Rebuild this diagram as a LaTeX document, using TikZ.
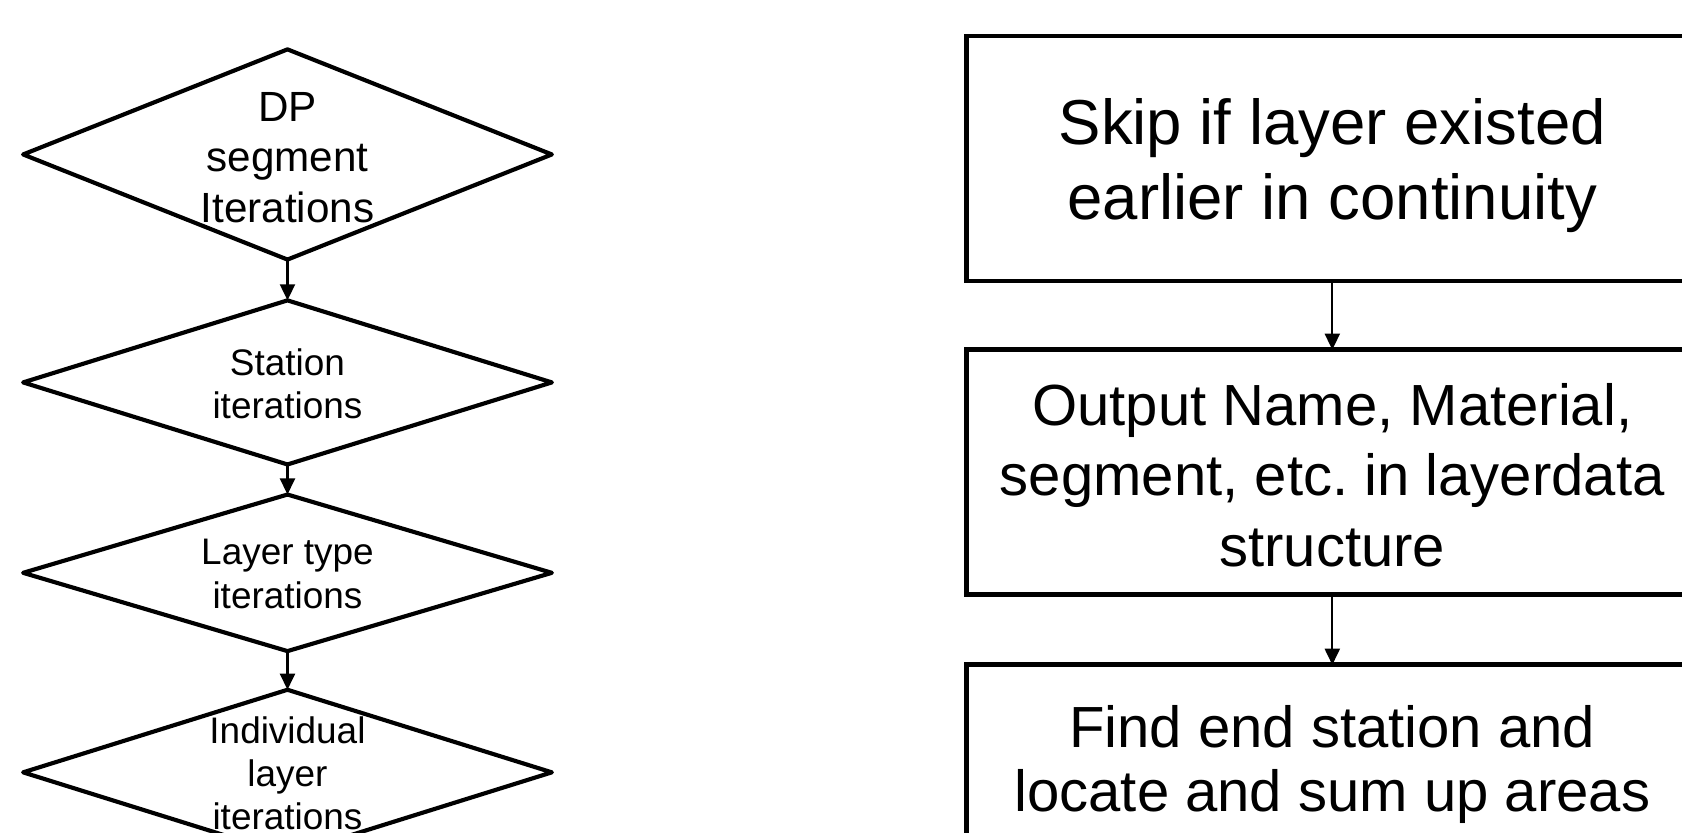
\documentclass[tikz,border=0pt]{standalone}
\usepackage{fontspec}
\setmainfont{Liberation Sans}
\usetikzlibrary{shapes.geometric,arrows.meta}
\frenchspacing
\begin{document}
\begin{tikzpicture}[x=0.02cm,y=-0.02cm,
  dia/.style={draw,shape=diamond,line width=2.2pt,line join=round,minimum width=9.86cm,inner sep=0pt,outer sep=0pt},
  box/.style={draw,rectangle,line width=2.6pt,minimum width=13.64cm,minimum height=4.57cm,inner sep=0pt,outer sep=0pt},
  conn/.style={line width=1.1pt,-{Triangle[length=0.3cm,width=0.28cm]}},
  dtxtA/.style={align=center,inner sep=0pt,font=\fontsize{22.4}{26.6}\selectfont},
  dtxt/.style={align=center,inner sep=0pt,font=\fontsize{19.6}{23}\selectfont},
  btxtA/.style={align=center,inner sep=0pt,font=\frenchspacing\fontsize{33.7}{39.7}\selectfont},
  btxt/.style={align=center,inner sep=0pt,font=\frenchspacing\fontsize{30.8}{37.4}\selectfont}]
\useasboundingbox (0,0) rectangle (1568,776);
\clip (0,0) rectangle (1568,776);
% diamonds
\node[dia,minimum height=3.92cm] (d1) at (268,144) {};
\node[dia,minimum height=3.06cm] (d2) at (268,356.5) {};
\node[dia,minimum height=2.92cm] (d3) at (268,534) {};
\node[dia,minimum height=3.08cm] (d4) at (268,720) {};
\node[dtxtA] (t1) at (268,147) {DP\\segment\\Iterations};
\node[dtxt] (t2) at (268,358) {Station\\iterations};
\node[dtxt] (t3) at (268,535) {Layer type\\iterations};
\node[dtxt] (t4) at (268,721) {Individual\\layer\\iterations};
\draw[conn] (d1.south) -- (d2.north);
\draw[conn] (d2.south) -- (d3.north);
\draw[conn] (d3.south) -- (d4.north);
% boxes
\node[box] (b1) at (1242,147.75) {};
\node[box,minimum height=4.56cm] (b2) at (1242,440) {};
\node[box] (b3) at (1242,734) {};
\node[btxtA] (s1) at (1242,154) {Skip if layer existed\\earlier in continuity};
\node[btxt] (s2) at (1242,443) {Output Name, Material,\\segment, etc. in layerdata\\structure};
\node[btxt,font=\fontsize{30.8}{34}\selectfont] (s3) at (1242,713) {Find end station and\\locate and sum up areas};
\draw[conn] (b1.south) -- (b2.north);
\draw[conn] (b2.south) -- (b3.north);
\end{tikzpicture}
\end{document}
